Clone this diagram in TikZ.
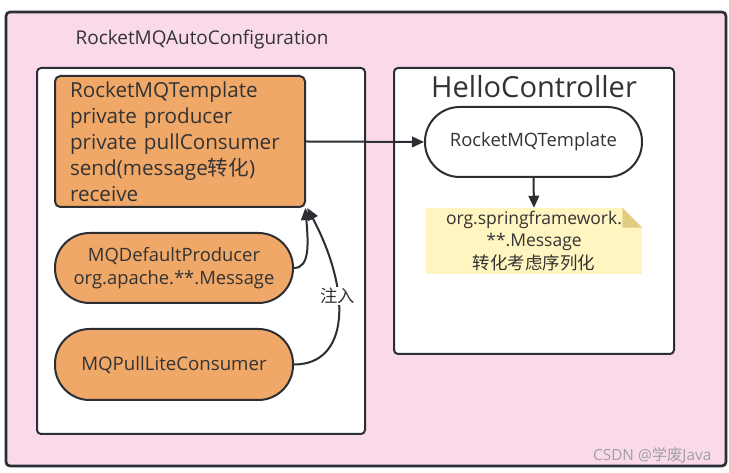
\documentclass[tikz,border=0pt]{standalone}
\usepackage{fontspec}
\setmainfont{Open Sans}
\newfontfamily\cjk{Noto Sans CJK SC}
\usetikzlibrary{positioning, arrows.meta, calc}
\definecolor{pinkbg}{RGB}{250,218,234}
\definecolor{boxline}{RGB}{43,47,51}
\definecolor{orangefill}{RGB}{240,168,104}
\definecolor{notefill}{RGB}{255,245,192}
\definecolor{notefold}{RGB}{226,204,130}
\definecolor{txtgray}{RGB}{51,51,51}
\definecolor{markgray}{RGB}{160,160,160}
\tikzset{
	>={Triangle[length=9pt, width=8pt]},
	frame/.style={draw=boxline, line width=1.5pt, rounded corners=3pt, fill=white},
	bean/.style={draw=boxline, line width=1.5pt, fill=orangefill, rounded corners=26pt,
		minimum width=178.5pt, minimum height=52.5pt, align=center, text=txtgray,
		font=\fontsize{13.8}{17.25}\selectfont},
	link/.style={->, draw=boxline, line width=1.5pt}
}

\begin{document}
\begin{tikzpicture}[x=0.75pt, y=-0.75pt]
	\useasboundingbox[fill=white] (0,0) rectangle (729,473);
	% outer frame
	\node[frame, fill=pinkbg, line width=2pt, minimum width=540pt, minimum height=340.5pt] (outer) at (366,239) {};
	\node[anchor=west, text=txtgray, font=\fontsize{14.2}{16}\selectfont] (autocfg) at (71,40) {RocketMQAutoConfiguration};
	\node[frame, minimum width=246pt, minimum height=274.5pt] (cfgbox) at (201,251) {};
	\node[frame, minimum width=210pt, minimum height=214.5pt] (ctrlbox) at (534,211) {};
	\node[text=txtgray, font=\fontsize{21.8}{24}\selectfont] (ctrl) at (534,87) {HelloController};
	% beans
	\node[bean, rounded corners=4pt, minimum width=187.5pt, minimum height=98.25pt,
		align=left, inner xsep=11.25pt, text width=165pt, font=\fontsize{15.5}{19.5}\selectfont] (tpl) at (180,141.5)
		{RocketMQTemplate\\private producer\\private pullConsumer\\send(message{\cjk 转化})\\receive};
	\node[bean] (prod) at (174,268) {MQDefaultProducer\\org.apache.**.Message};
	\node[bean, minimum height=53.25pt, font=\fontsize{14}{17}\selectfont] (cons) at (174,364.5) {MQPullLiteConsumer};
	\node[bean, fill=white, minimum width=162.75pt] (usetpl) at (533.5,142) {RocketMQTemplate};
	% note
	\node[fill=notefill, minimum width=162pt, minimum height=49.5pt, inner sep=0pt, align=center,
		text=txtgray, font=\fontsize{13.1}{17}\selectfont] (note) at (534,241)
		{org.springframework.\\**.Message\\{\cjk 转化考虑序列化}};
	\fill[white] ($(note.north east)+(-20,0)$) -- (note.north east) -- ($(note.north east)+(0,20)$) -- cycle;
	\fill[notefold] ($(note.north east)+(-20,0)$) -- ($(note.north east)+(-20,20)$) -- ($(note.north east)+(0,20)$) -- cycle;
	% connectors
	\draw[link] (tpl.east) -- (usetpl.west);
	\draw[link] (usetpl.south) -- (note.north);
	\draw[link] (prod.east) .. controls +(16,0) and +(3,35) .. ([xshift=-0.5pt]tpl.south east);
	\draw[link] (cons.east) .. controls +(55,0) and +(45,85) .. ([xshift=1pt]tpl.south east)
		node[pos=0.62, fill=white, inner sep=1pt, text=txtgray, font=\cjk\fontsize{13}{15}\selectfont] (inject) {注入};
	\node[anchor=east, text=markgray, font=\fontsize{11.5}{13}\selectfont] (mark) at (716,455) {CSDN @{\cjk 学废}Java};
\end{tikzpicture}
\end{document}
